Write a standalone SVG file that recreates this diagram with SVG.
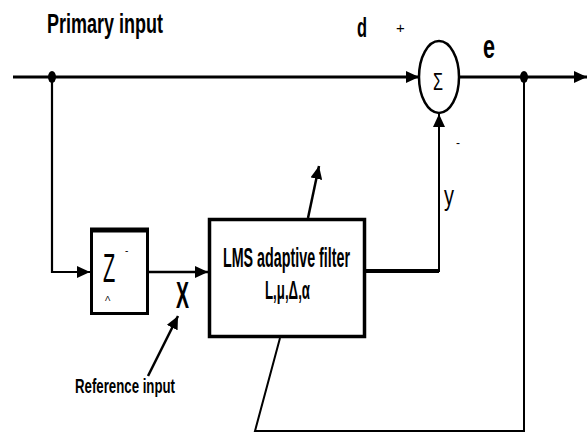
<svg xmlns="http://www.w3.org/2000/svg" width="587" height="433" viewBox="0 0 587 433">
<style>
text{font-family:"Liberation Sans",Arial,sans-serif;fill:#000}
.b{font-weight:bold}
.ln{fill:none;stroke:#000;stroke-linecap:butt;stroke-linejoin:miter}
</style>
<defs>
<marker id="ah" markerUnits="userSpaceOnUse" markerWidth="14" markerHeight="12" refX="13" refY="6" orient="auto">
<path d="M0,0 L13,6 L0,12 Z" fill="#000"/>
</marker>
</defs>
<rect width="587" height="433" fill="#fff"/>
<g id="labels">
<text class="b" x="47" y="33" font-size="27" textLength="116" lengthAdjust="spacingAndGlyphs">Primary input</text>
<text class="b" x="357" y="37" font-size="27" textLength="10" lengthAdjust="spacingAndGlyphs">d</text>
<text x="396" y="33" font-size="15">+</text>
<text class="b" x="483" y="58" font-size="34" textLength="12" lengthAdjust="spacingAndGlyphs">e</text>
<text x="444" y="205" font-size="28" textLength="10" lengthAdjust="spacingAndGlyphs">y</text>
<text x="456" y="147" font-size="12">-</text>
<text class="b" x="176" y="308" font-size="36" textLength="13" lengthAdjust="spacingAndGlyphs">X</text>
<text class="b" x="75" y="393" font-size="21" textLength="100" lengthAdjust="spacingAndGlyphs">Reference input</text>
</g>
<g id="connectors">
<line class="ln" x1="13" y1="77" x2="419" y2="77" stroke-width="3.2" marker-end="url(#ah)"/>
<line class="ln" x1="459" y1="77" x2="587" y2="77" stroke-width="3.2" marker-end="url(#ah)"/>
<polyline class="ln" points="52,77 52,272 90,272" stroke-width="2.2" marker-end="url(#ah)"/>
<line class="ln" x1="148" y1="272" x2="208" y2="272" stroke-width="2.5" marker-end="url(#ah)"/>
<polyline class="ln" points="365,271 439,271 439,114" stroke-width="2" marker-end="url(#ah)"/>
<line class="ln" x1="365" y1="271" x2="439" y2="271" stroke-width="4"/>
<line class="ln" x1="308" y1="218" x2="319" y2="166" stroke-width="2.5" marker-end="url(#ah)"/>
<line class="ln" x1="148" y1="376" x2="178" y2="316" stroke-width="2.5" marker-end="url(#ah)"/>
<polyline class="ln" points="524,77 524,431 255,431 280,338" stroke-width="2"/>
</g>
<g id="split1"><ellipse cx="52" cy="77" rx="4" ry="6" fill="#000"/></g>
<g id="split2"><ellipse cx="524" cy="77" rx="4" ry="6" fill="#000"/></g>
<g id="sum">
<ellipse cx="439" cy="77" rx="20" ry="36" fill="#fff" stroke="#000" stroke-width="2.5"/>
<text x="438" y="90" font-size="24" text-anchor="middle" textLength="10" lengthAdjust="spacingAndGlyphs">Σ</text>
</g>
<g id="delay">
<rect x="91.5" y="229.5" width="56" height="84" fill="#fff" stroke="#000" stroke-width="3"/>
<line x1="90" y1="230" x2="149" y2="230" stroke="#000" stroke-width="5"/>
<text transform="translate(103,282) scale(0.5,1)" font-size="40">Z</text>
<text x="125" y="254" font-size="10">-</text>
<text x="105" y="301" font-size="8">Λ</text>
</g>
<g id="lms">
<rect x="209.5" y="219.5" width="155" height="117" fill="#fff" stroke="#000" stroke-width="3.5"/>
<text class="b" x="223" y="267" font-size="27" textLength="127" lengthAdjust="spacingAndGlyphs">LMS adaptive filter</text>
<text class="b" x="265" y="299" font-size="25" textLength="45" lengthAdjust="spacingAndGlyphs">L,μ,Δ,α</text>
</g>
</svg>
